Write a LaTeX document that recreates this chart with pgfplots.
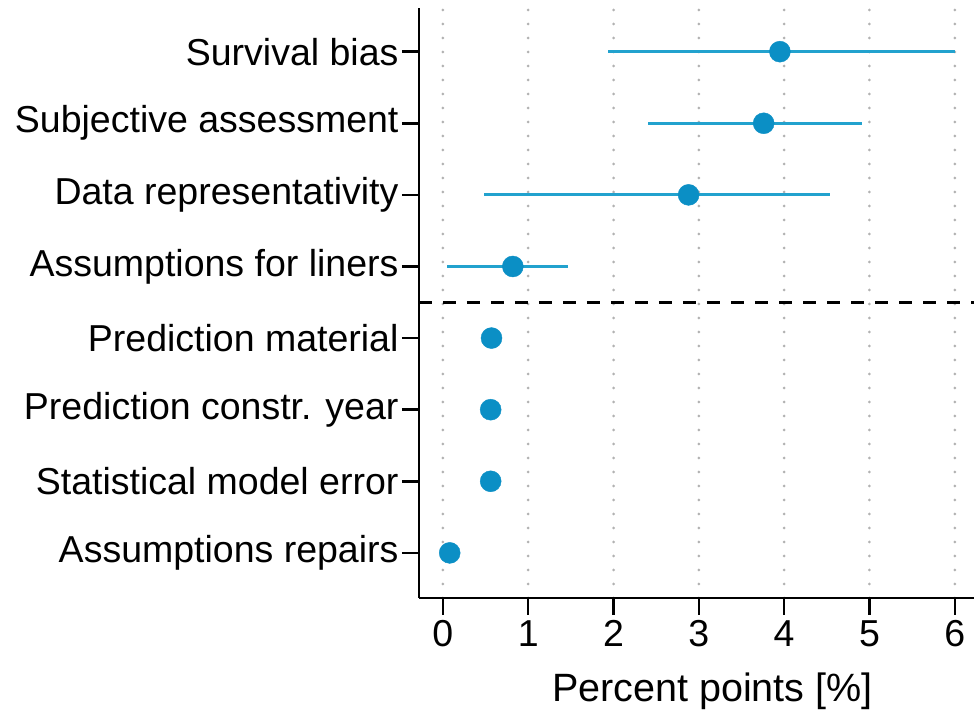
\documentclass[border=0pt]{standalone}
\usepackage{pgfplots}
\pgfplotsset{compat=1.18}
\usepackage{pgfplotstable}
\usepackage{fontspec}
\setmainfont{Liberation Sans}
\usetikzlibrary{calc}

\definecolor{ptblue}{HTML}{0B8FC5}
\definecolor{ciblue}{HTML}{22A2CE}

% estimates with confidence interval
\pgfplotstableread{
row est lo hi
8 3.95 1.93 6.00
7 3.76 2.40 4.91
6 2.88 0.48 4.54
5 0.82 0.05 1.47
}\withci
% point estimates only
\pgfplotstableread{
row est
4 0.57
3 0.56
2 0.56
1 0.08
}\pointonly

\newcommand{\lbl}{\fontsize{37.5}{44}\selectfont}

\begin{document}
\begin{tikzpicture}
\begin{axis}[
  scale only axis,
  width=555pt, height=590pt,
  xmin=-0.28, xmax=6.225,
  ymin=0.37, ymax=8.61,
  axis x line=bottom, axis y line=left,
  axis line style={line width=2.5pt, -},
  xtick={0,...,6},
  ytick={1,...,8},
  yticklabels={Assumptions repairs, Statistical model error, Prediction constr. year, Prediction material, Assumptions for liners, Data representativity, Subjective assessment, Survival bias},
  tick align=outside,
  major tick length=17pt,
  tick style={line width=2.5pt, black},
  xmajorgrids,
  major x grid style={gray!60, line width=3pt, line cap=round, dash pattern=on 0pt off 14pt},
  ticklabel style={font=\lbl},
  xticklabel style={yshift=-2pt},
  /pgf/number format/assume math mode=true,
  xlabel={Percent points [\%]},
  xlabel style={font=\fontsize{39.5}{46}\selectfont, xshift=16pt, yshift=-19pt},
  clip=false,
]
% separator between the two groups of sources
\addplot[black, line width=2.8pt, dash pattern=on 13pt off 11pt, forget plot] coordinates {(-0.28,4.5) (6.225,4.5)};
% confidence intervals
\addplot[draw=none, mark=none, forget plot,
  error bars/.cd, x dir=both, x explicit, error mark=none,
  error bar style={line width=3pt, ciblue}]
  table[x=est, y=row, x error plus expr=\thisrow{hi}-\thisrow{est}, x error minus expr=\thisrow{est}-\thisrow{lo}] {\withci};
% point estimates
\addplot[only marks, mark=*, mark size=10.5pt, mark options={fill=ptblue, draw=ptblue}] table[x=est, y=row] {\withci};
\addplot[only marks, mark=*, mark size=10.5pt, mark options={fill=ptblue, draw=ptblue}] table[x=est, y=row] {\pointonly};
\end{axis}
\pgfresetboundingbox
\path[use as bounding box] ($(current axis.south west)+(-419pt,-113pt)$) rectangle ($(current axis.south west)+(555pt,598pt)$);
\end{tikzpicture}
\end{document}
